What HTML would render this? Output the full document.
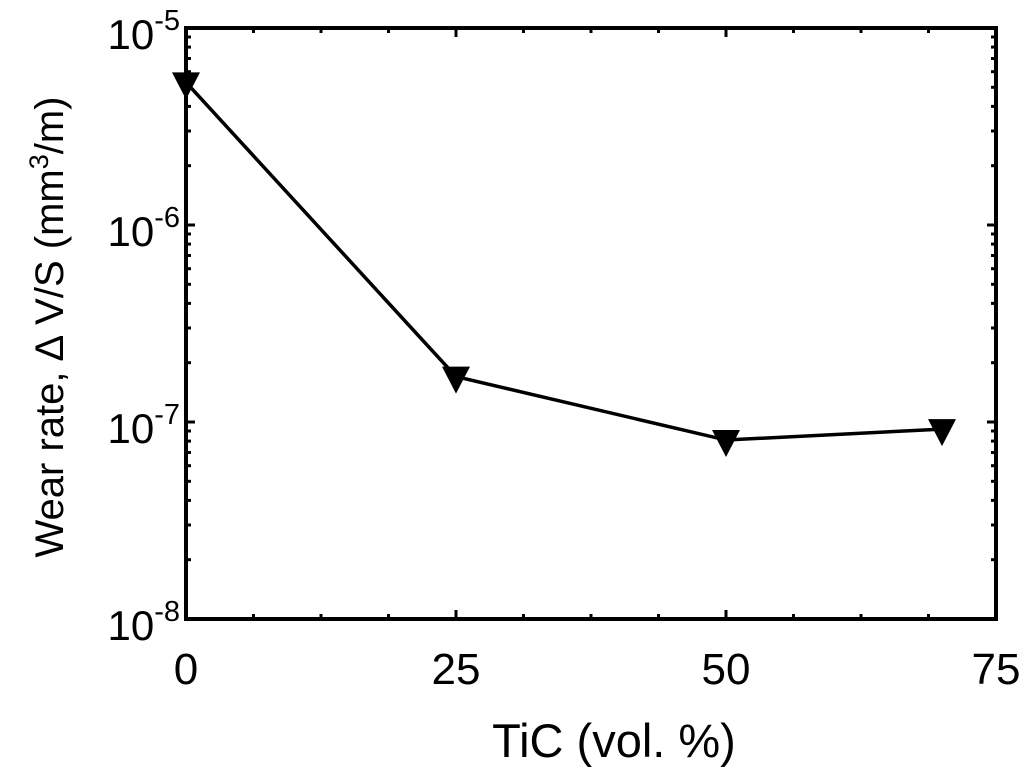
<!DOCTYPE html>
<html><head><meta charset="utf-8"><style>
html,body{margin:0;padding:0;background:#fff;}
svg text{font-family:"Liberation Sans",Arial,sans-serif;fill:#000;}
</style></head><body>
<svg id="chart" width="1024" height="776" viewBox="0 0 1024 776" xmlns="http://www.w3.org/2000/svg">
<g id="ticks"></g>
<g id="marks"></g>
<rect x="186" y="28" width="810" height="591" fill="none" stroke="#000" stroke-width="4"/>
<g id="labels"></g>
<text x="614" y="757" font-size="47" text-anchor="middle">TiC (vol. %)</text>
<text transform="translate(63,327) rotate(-90)" font-size="40" text-anchor="middle">Wear rate, ∆ V/S (mm<tspan font-size="27" dy="-15">3</tspan><tspan dy="15">/m)</tspan></text>
</svg>
<script>
const tic = [0, 25, 50, 70];
const wear = [5.3e-6, 1.7e-7, 8.1e-8, 9.2e-8];
const xTicks = [0, 25, 50, 75];
const yExps = [-5, -6, -7, -8];
const X0=186,X1=996,Y0=28,Y1=619;
const xs = v => X0 + (v-0)/(75-0)*(X1-X0);
const ys = v => Y0 + (-5 - Math.log10(v))/3*(Y1-Y0);
const NS="http://www.w3.org/2000/svg";
function mk(tag, attrs, parent){const e=document.createElementNS(NS,tag);for(const k in attrs)e.setAttribute(k,attrs[k]);parent.appendChild(e);return e;}
const tg=document.getElementById('ticks'), mg=document.getElementById('marks'), lg=document.getElementById('labels');
for(let v=0;v<=75;v+=6.25){
  const x=xs(v), L=(v%25===0)?9:5;
  let t=mk('line',{x1:x,x2:x,y1:Y1,y2:Y1-L,stroke:'#000','stroke-width':3},tg);
  
  
  t=mk('line',{x1:x,x2:x,y1:Y0,y2:Y0+L,stroke:'#000','stroke-width':3},tg);
  
  
}
xTicks.forEach(v=>{
  const t=mk('text',{x:xs(v),y:684,'font-size':44,'text-anchor':'middle'},lg);
  t.textContent=v;
  
  
});
for(let e=-8;e<-5;e++){
  for(let m=1;m<10;m++){
    const y=ys(m*Math.pow(10,e)), L=(m===1)?9:5;
    let t=mk('line',{x1:X0,x2:X0+L,y1:y,y2:y,stroke:'#000','stroke-width':3},tg);
    
    
    t=mk('line',{x1:X1,x2:X1-L,y1:y,y2:y,stroke:'#000','stroke-width':3},tg);
    
    
  }
}
yExps.forEach(e=>{
  const t=mk('text',{x:180,y:ys(Math.pow(10,e))+21,'font-size':42,'text-anchor':'end'},lg);
  t.innerHTML='10<tspan font-size="29" dy="-19">'+e+'</tspan>';
  
  
});
const pts=tic.map((v,i)=>xs(v)+','+ys(wear[i])).join(' ');
const pl=mk('polyline',{points:pts,fill:'none',stroke:'#000','stroke-width':3.5},mg);


tic.forEach((v,i)=>{
  const x=xs(v), y=ys(wear[i]);
  const p=mk('polygon',{points:`${x-14},${y-10} ${x+14},${y-10} ${x},${y+17}`,fill:'#000'},mg);
  
  
});
</script>
</body></html>
